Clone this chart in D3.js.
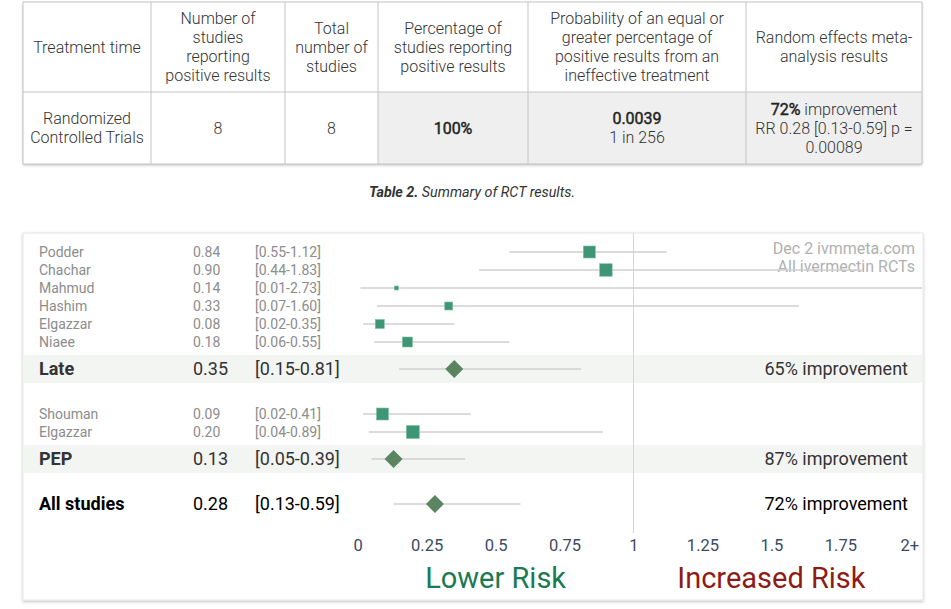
<!DOCTYPE html>
<html>
<head>
<meta charset="utf-8">
<script src="https://cdn.jsdelivr.net/npm/d3@7/dist/d3.min.js"></script>
<style>
  body { margin: 0; background: #fff; font-family: Roboto, "Open Sans", sans-serif; }
  svg text { font-family: Roboto, "Open Sans", sans-serif; }
</style>
</head>
<body>
<svg id="chart" width="951" height="609"></svg>
<script>
// ---- table data ----
var tableHeaders = [
  ["Treatment time"],
  ["Number of", "studies", "reporting", "positive results"],
  ["Total", "number of", "studies"],
  ["Percentage of", "studies reporting", "positive results"],
  ["Probability of an equal or", "greater percentage of", "positive results from an", "ineffective treatment"],
  ["Random effects meta-", "analysis results"]
];
var tableRow = [
  [["Randomized", 0], ["Controlled Trials", 0]],
  [["8", 0]],
  [["8", 0]],
  [["100%", 1]],
  [["0.0039", 1], ["1 in 256", 0]],
  [["72%|improvement", 2], ["RR 0.28 [0.13-0.59] p =", 0], ["0.00089", 0]]
];
var tableCaptionBold = "Table 2.";
var tableCaptionText = " Summary of RCT results.";

// ---- forest plot data ----
var studyNames  = ["Podder", "Chachar", "Mahmud", "Hashim", "Elgazzar", "Niaee", "Shouman", "Elgazzar"];
var studyGroup  = ["Late", "Late", "Late", "Late", "Late", "Late", "PEP", "PEP"];
var studyRR     = [0.84, 0.90, 0.14, 0.33, 0.08, 0.18, 0.09, 0.20];
var studyLo     = [0.55, 0.44, 0.01, 0.07, 0.02, 0.06, 0.02, 0.04];
var studyHi     = [1.12, 1.83, 2.73, 1.60, 0.35, 0.55, 0.41, 0.89];
var studyWeight = [12, 12.5, 4, 8, 9, 10, 12, 13];

var groupNames = ["Late", "PEP"];
var groupRR    = [0.35, 0.13];
var groupLo    = [0.15, 0.05];
var groupHi    = [0.81, 0.39];
var groupImpr  = ["65% improvement", "87% improvement"];

var totalName = "All studies";
var totalRR = 0.28, totalLo = 0.13, totalHi = 0.59;
var totalImpr = "72% improvement";

var tickValues = [0, 0.25, 0.5, 0.75, 1, 1.25, 1.5, 1.75, 2];
var watermark = ["Dec 2 ivmmeta.com", "All ivermectin RCTs"];

var f2 = d3.format(".2f");

var svg = d3.select("#chart");

var defs = svg.append("defs");
var shadow = defs.append("filter").attr("id", "shadow")
    .attr("x", "-5%").attr("y", "-5%").attr("width", "110%").attr("height", "115%");
shadow.append("feDropShadow").attr("dx", 0).attr("dy", 1.5)
    .attr("stdDeviation", 1.5).attr("flood-color", "#000").attr("flood-opacity", 0.22);

// ================= TABLE =================
var colEdges = [23, 151, 285, 378, 528, 746, 922];
var rowEdges = [2, 92, 164];
var lh = 19;

var table = svg.append("g").attr("class", "table");
table.append("rect")
    .attr("x", colEdges[0]).attr("y", rowEdges[0])
    .attr("width", colEdges[6] - colEdges[0]).attr("height", rowEdges[2] - rowEdges[0])
    .attr("fill", "#fff").attr("filter", "url(#shadow)");

// grey cells of the result row
table.selectAll(".greycell")
  .data([3, 4, 5])
  .enter().append("rect")
    .attr("x", function(c){ return colEdges[c]; })
    .attr("y", rowEdges[1])
    .attr("width", function(c){ return colEdges[c+1] - colEdges[c]; })
    .attr("height", rowEdges[2] - rowEdges[1])
    .attr("fill", "#efefef");

// grid lines
table.selectAll(".vline")
  .data(colEdges)
  .enter().append("line")
    .attr("x1", function(d){ return d; }).attr("x2", function(d){ return d; })
    .attr("y1", rowEdges[0]).attr("y2", rowEdges[2])
    .attr("stroke", "#c4c4c4").attr("stroke-width", 1);
table.selectAll(".hline")
  .data(rowEdges)
  .enter().append("line")
    .attr("x1", colEdges[0]).attr("x2", colEdges[6])
    .attr("y1", function(d){ return d; }).attr("y2", function(d){ return d; })
    .attr("stroke", "#c4c4c4").attr("stroke-width", 1);

// header text
tableHeaders.forEach(function(lines, c){
  var cx = (colEdges[c] + colEdges[c+1]) / 2;
  var cy = (rowEdges[0] + rowEdges[1]) / 2;
  table.selectAll(".h" + c)
    .data(lines)
    .enter().append("text")
      .attr("x", cx)
      .attr("y", function(d, i){ return cy + (i - (lines.length - 1) / 2) * lh; })
      .attr("dy", "0.35em")
      .attr("text-anchor", "middle")
      .attr("font-size", 16)
      .attr("font-weight", 300)
      .attr("fill", "#333")
      .text(function(d){ return d; });
});

// result row text ("medium" weight imitated with a thin stroke)
tableRow.forEach(function(lines, c){
  var cx = (colEdges[c] + colEdges[c+1]) / 2;
  var cy = (rowEdges[1] + rowEdges[2]) / 2;
  lines.forEach(function(l, i){
    var t = table.append("text")
      .attr("x", cx)
      .attr("y", cy + (i - (lines.length - 1) / 2) * lh)
      .attr("dy", "0.35em")
      .attr("text-anchor", "middle")
      .attr("font-size", 16)
      .attr("fill", "#333");
    if (l[1] == 2) {
      var parts = l[0].split("|");
      t.append("tspan").attr("fill", "#222").attr("stroke", "#222").attr("stroke-width", 0.45).text(parts[0]);
      t.append("tspan").attr("font-weight", 300).text(" " + parts[1]);
    } else if (l[1] == 1) {
      t.attr("fill", "#222").attr("stroke", "#222").attr("stroke-width", 0.45).text(l[0]);
    } else {
      t.attr("font-weight", 300).text(l[0]);
    }
  });
});

// caption
var cap = svg.append("text")
    .attr("x", 472).attr("y", 192).attr("dy", "0.35em")
    .attr("text-anchor", "middle")
    .attr("font-size", 14.3)
    .attr("font-style", "italic")
    .attr("fill", "#333");
cap.append("tspan").attr("font-weight", 700).text(tableCaptionBold);
cap.append("tspan").text(tableCaptionText);

// ================= FOREST PLOT =================
var panel = {x: 23, y: 233, w: 900, h: 367};
var plot = svg.append("g").attr("class", "forest");

plot.append("rect")
    .attr("x", panel.x).attr("y", panel.y)
    .attr("width", panel.w).attr("height", panel.h)
    .attr("fill", "#fff").attr("stroke", "#e6e6e6")
    .attr("filter", "url(#shadow)");

defs.append("clipPath").attr("id", "panelclip")
  .append("rect")
    .attr("x", panel.x + 1).attr("y", panel.y)
    .attr("width", panel.w - 2).attr("height", panel.h);

var x = d3.scaleLinear().domain([0, 2]).range([357.7, 909.3]);
var size = d3.scaleLinear().domain([0, 1]).range([0, 1]);

// build rows
var rows = [];
var y = 252;
groupNames.forEach(function(g, gi){
  studyNames.forEach(function(n, i){
    if (studyGroup[i] != g) return;
    rows.push({type: "study", name: n, rr: studyRR[i], lo: studyLo[i], hi: studyHi[i], w: studyWeight[i], y: y});
    y += 18;
  });
  y += 9;
  rows.push({type: "group", name: g, rr: groupRR[gi], lo: groupLo[gi], hi: groupHi[gi], impr: groupImpr[gi], y: y});
  y += 45;
});
rows.push({type: "total", name: totalName, rr: totalRR, lo: totalLo, hi: totalHi, impr: totalImpr, y: y});

var groupRows = rows.filter(function(r){ return r.type == "group"; });

// group bands
plot.selectAll(".band")
  .data(groupRows)
  .enter().append("rect")
    .attr("class", "band")
    .attr("x", panel.x + 1).attr("width", panel.w - 2)
    .attr("y", function(d){ return d.y - 14; })
    .attr("height", 28)
    .attr("fill", "#f3f5f3");

// no-effect line
plot.append("line")
    .attr("x1", x(1)).attr("x2", x(1))
    .attr("y1", panel.y).attr("y2", 533)
    .attr("stroke", "#d6d6d6").attr("stroke-width", 1);

// watermark
plot.selectAll(".wm")
  .data(watermark)
  .enter().append("text")
    .attr("x", 915)
    .attr("y", function(d, i){ return 248 + i * 18; })
    .attr("dy", "0.35em")
    .attr("text-anchor", "end")
    .attr("font-size", 16)
    .attr("fill", "#b0b0b0")
    .text(function(d){ return d; });

// CI lines
plot.append("g").attr("clip-path", "url(#panelclip)")
  .selectAll(".ci")
  .data(rows)
  .enter().append("line")
    .attr("x1", function(d){ return x(d.lo); })
    .attr("x2", function(d){ return x(d.hi); })
    .attr("y1", function(d){ return d.y; })
    .attr("y2", function(d){ return d.y; })
    .attr("stroke", "#cfcfcf").attr("stroke-width", 1.6);

// study squares
plot.selectAll(".sq")
  .data(rows.filter(function(r){ return r.type == "study"; }))
  .enter().append("rect")
    .attr("x", function(d){ return x(d.rr) - size(d.w) / 2; })
    .attr("y", function(d){ return d.y - size(d.w) / 2; })
    .attr("width", function(d){ return size(d.w); })
    .attr("height", function(d){ return size(d.w); })
    .attr("fill", "#3f9677")
    .attr("stroke", "#7cc0a4").attr("stroke-width", 0.6);

// diamonds
plot.selectAll(".dia")
  .data(rows.filter(function(r){ return r.type != "study"; }))
  .enter().append("path")
    .attr("d", function(d){
      var cx = x(d.rr), cy = d.y, r = 9;
      return "M" + (cx - r) + "," + cy + "L" + cx + "," + (cy - r) + "L" + (cx + r) + "," + cy + "L" + cx + "," + (cy + r) + "Z";
    })
    .attr("fill", "#5b8560");

// text columns
var studyRows = rows.filter(function(r){ return r.type == "study"; });
var bigRows = rows.filter(function(r){ return r.type != "study"; });

var cols = [
  {x: 39, f: function(d){ return d.name; }},
  {x: 193, f: function(d){ return f2(d.rr); }},
  {x: 255, f: function(d){ return "[" + f2(d.lo) + "-" + f2(d.hi) + "]"; }}
];
cols.forEach(function(c, ci){
  plot.selectAll(".st" + ci)
    .data(studyRows)
    .enter().append("text")
      .attr("x", c.x).attr("y", function(d){ return d.y; })
      .attr("dy", "0.35em")
      .attr("font-size", 14)
      .attr("fill", "#8c8c8c")
      .text(c.f);
  plot.selectAll(".bt" + ci)
    .data(bigRows)
    .enter().append("text")
      .attr("x", c.x).attr("y", function(d){ return d.y; })
      .attr("dy", "0.35em")
      .attr("font-size", 18)
      .attr("font-weight", ci == 0 ? 700 : 400)
      .attr("fill", function(d){ return d.type == "total" ? "#000" : "#333"; })
      .text(c.f);
});

plot.selectAll(".impr")
  .data(bigRows)
  .enter().append("text")
    .attr("x", 908).attr("y", function(d){ return d.y; })
    .attr("dy", "0.35em")
    .attr("text-anchor", "end")
    .attr("font-size", 18)
    .attr("fill", function(d){ return d.type == "total" ? "#000" : "#333"; })
    .text(function(d){ return d.impr; });

// axis
var axis = d3.axisBottom(x)
    .tickValues(tickValues)
    .tickSize(0)
    .tickPadding(0)
    .tickFormat(function(d){ return d == 2 ? "2+" : d3.format("")(d); });

var ax = plot.append("g").attr("transform", "translate(0,539)").call(axis);
ax.select(".domain").remove();
ax.selectAll("text")
    .attr("font-family", "Roboto, sans-serif")
    .attr("font-size", 16.5)
    .attr("fill", "#3d4a63");

plot.append("text")
    .attr("x", x(0.5)).attr("y", 578).attr("dy", "0.35em")
    .attr("text-anchor", "middle")
    .attr("font-size", 29)
    .attr("fill", "#1a7a52")
    .text("Lower Risk");
plot.append("text")
    .attr("x", x(1.5)).attr("y", 578).attr("dy", "0.35em")
    .attr("text-anchor", "middle")
    .attr("font-size", 29)
    .attr("fill", "#8e1b16")
    .text("Increased Risk");
</script>
</body>
</html>
